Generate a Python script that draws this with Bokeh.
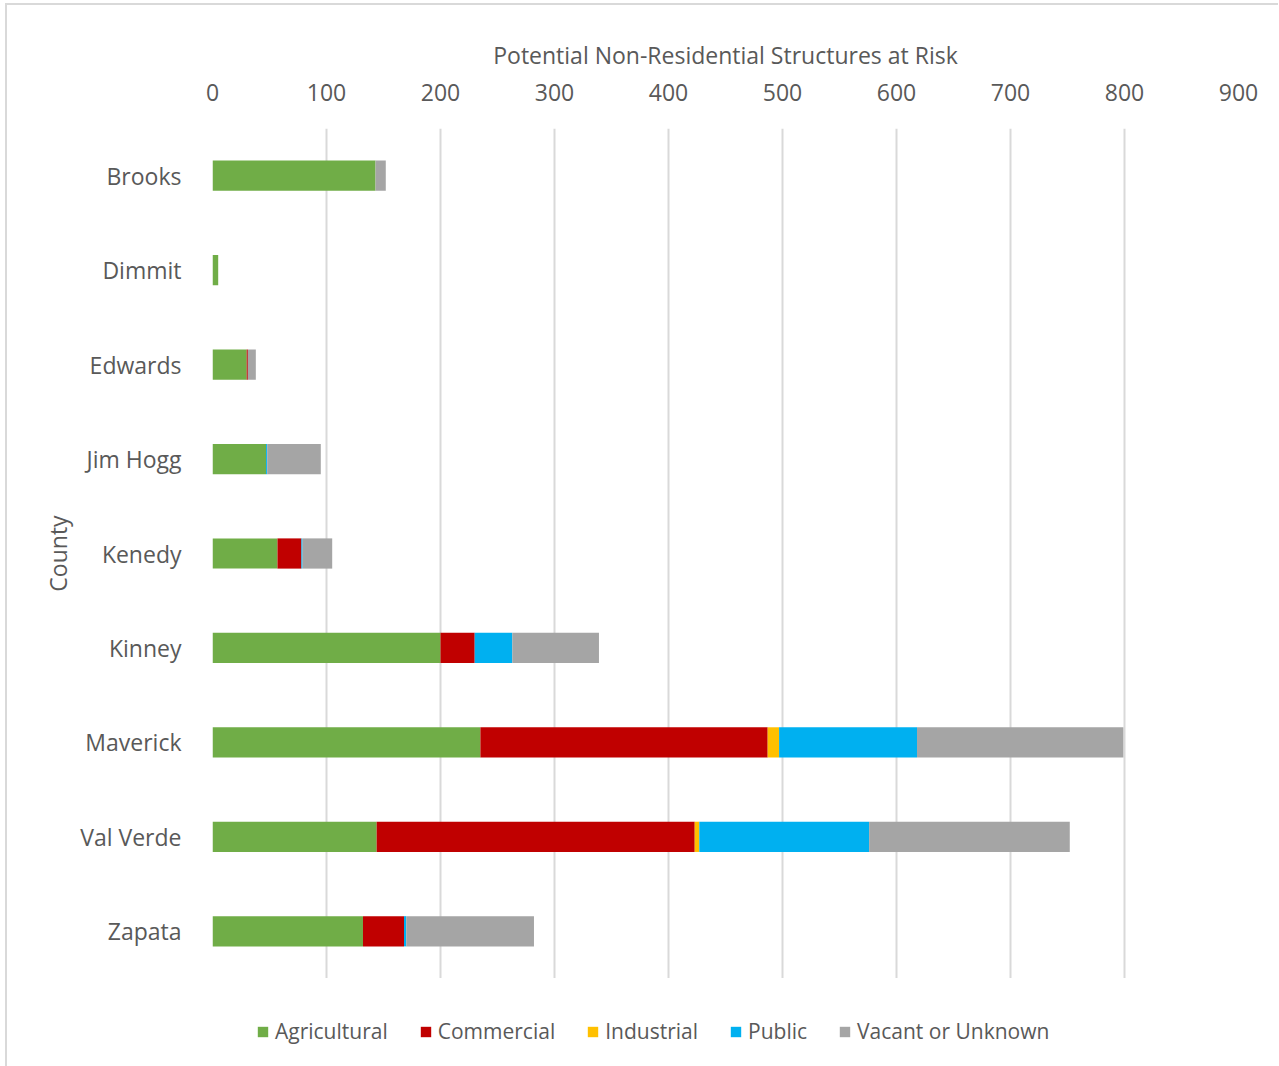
from bokeh.plotting import figure
from bokeh.layouts import column
from bokeh.models import FixedTicker, Range1d, FactorRange, Legend, LegendItem, ColumnDataSource
from bokeh.embed import file_html
from bokeh.resources import INLINE

counties = ["Brooks", "Dimmit", "Edwards", "Jim Hogg", "Kenedy", "Kinney", "Maverick", "Val Verde", "Zapata"]
agricultural = [143, 5, 30, 47, 57, 200, 235, 144, 132]
commercial = [0, 0, 1, 0, 21, 30, 252, 279, 36]
industrial = [0, 0, 0, 0, 0, 0, 10, 4, 0]
public = [0, 0, 0, 1, 1, 33, 121, 149, 2]
vacant = [9, 0, 7, 47, 26, 76, 181, 176, 112]
series = ["Agricultural", "Commercial", "Industrial", "Public", "Vacant or Unknown"]
colors = ["#70ad47", "#c00000", "#ffc000", "#00b0f0", "#a5a5a5"]
ticks = [0, 100, 200, 300, 400, 500, 600, 700, 800, 900]

FONT = "Open Sans"
TXT = "#595959"

source = ColumnDataSource(dict(county=counties, Agricultural=agricultural, Commercial=commercial,
                               Industrial=industrial, Public=public, **{"Vacant or Unknown": vacant}))

p = figure(frame_width=1026, frame_height=850, output_backend="svg", toolbar_location=None,
           x_range=Range1d(0, 900), y_range=FactorRange(*reversed(counties)),
           x_axis_location="above")
p.min_border_left = 205
p.min_border_right = 40
p.min_border_top = 123
p.min_border_bottom = 0
p.outline_line_color = None
p.border_fill_color = "white"
p.background_fill_color = "white"

p.hbar_stack(series, y="county", height=0.32, color=colors, source=source, line_color=None)

p.xaxis.ticker = FixedTicker(ticks=ticks)
p.xaxis.axis_label = "Potential Non-Residential Structures at Risk"
p.yaxis.axis_label = "County"
for ax in (p.xaxis, p.yaxis):
    ax.axis_line_color = None
    ax.major_tick_line_color = None
    ax.minor_tick_line_color = None
    ax.major_label_text_font = FONT
    ax.major_label_text_font_size = "23px"
    ax.major_label_text_color = TXT
    ax.axis_label_text_font = FONT
    ax.axis_label_text_font_size = "23px"
    ax.axis_label_text_color = TXT
    ax.axis_label_text_font_style = "normal"
p.xaxis.major_label_standoff = 22
p.xaxis.axis_label_standoff = 10
p.yaxis.major_label_standoff = 25
p.yaxis.axis_label_standoff = 3

p.xgrid.grid_line_color = "#d9d9d9"
p.xgrid.grid_line_width = 2
p.ygrid.grid_line_color = None

# legend strip below the plot: same stacked series, hidden, used only for the legend swatches
lg = figure(frame_width=1026, frame_height=86, output_backend="svg", toolbar_location=None,
            x_range=Range1d(-20, -10), y_range=FactorRange(*reversed(counties)),
            x_axis_type=None, y_axis_type=None)
lg.min_border_left = 205
lg.min_border_right = 40
lg.min_border_top = 2
lg.min_border_bottom = 0
lg.outline_line_color = None
lg.grid.visible = False
swatches = lg.hbar_stack(series, y="county", height=0.32, color=colors, source=source, line_color=None)
for r in swatches:
    r.visible = False

legend = Legend(items=[LegendItem(label=s, renderers=[r]) for s, r in zip(series, swatches)],
                orientation="horizontal", location=(44, 21))
legend.label_text_font = FONT
legend.label_text_font_size = "21px"
legend.label_text_color = TXT
legend.glyph_width = 13
legend.glyph_height = 13
legend.label_standoff = 6
legend.spacing = 31
legend.margin = 0
legend.padding = 10
legend.border_line_color = None
legend.background_fill_alpha = 0
lg.add_layout(legend, "center")

layout = column(p, lg, spacing=0)
layout.styles = {"margin-left": "5px", "margin-top": "3px",
                 "border-left": "2px solid #d9d9d9", "border-top": "2px solid #d9d9d9"}

open("out.html", "w").write(file_html(layout, INLINE))
